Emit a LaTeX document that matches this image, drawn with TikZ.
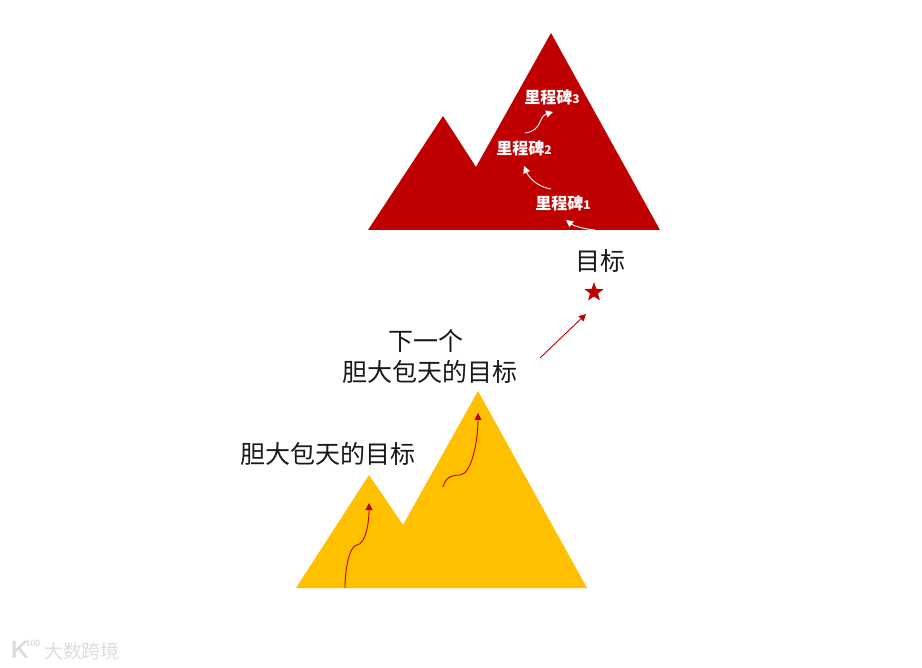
\documentclass[tikz,border=0pt]{standalone}
\usepackage{fontspec}
\usetikzlibrary{positioning,arrows.meta,shapes.geometric}
\newfontfamily\cjk{Noto Sans CJK SC}
\definecolor{peakred}{HTML}{C00000}
\definecolor{peakyel}{HTML}{FFC000}
\definecolor{markcol}{HTML}{DCDCDC}

\begin{document}
\begin{tikzpicture}[
  x=1pt, y=-1pt,
  every node/.style={font=\cjk, inner sep=0pt},
  goal/.style={font=\cjk\fontsize{25}{31}\selectfont, align=center, text=black!90},
  stone/.style={font=\cjk\bfseries\fontsize{16}{18}\selectfont, text=white},
  arr/.style={-{Triangle[length=7pt,width=7pt]}, line width=0.9pt},
  whitearr/.style={arr, white},
  redarr/.style={arr, peakred}
]
\useasboundingbox (0,0) rectangle (922,668);

% ---------------- mountains ----------------
\fill[peakred] (368,230) -- (443,116) -- (476,167) -- (551,33) -- (660,230) -- cycle;
\fill[peakyel] (296,588) -- (369,475) -- (403,525) -- (478,391) -- (587,588) -- cycle;

% ---------------- milestones ----------------
\node[stone] (stone3) at (552,97) {里程碑\fontsize{12}{14}\selectfont 3};
\node[stone] (stone2) at (524,148) {里程碑\fontsize{12}{14}\selectfont 2};
\node[stone] (stone1) at (563,203) {里程碑\fontsize{12}{14}\selectfont 1};

% ---------------- goals ----------------
\node[goal] (target) at (600,261) {目标};
\node[star, star points=5, star point ratio=2.4, fill=peakred, minimum size=20pt, below=9pt of target, xshift=-6pt] (mark) {};
\node[goal] (nextgoal) at (430,357) {下一个\hspace*{8pt}\\胆大包天的目标};
\node[goal] (bigoal) at (328,454) {胆大包天的目标};

% ---------------- connector ends ----------------
\coordinate (a1) at (595,230);
\coordinate (a2) at (566,220);
\coordinate (b1) at (551,189);
\coordinate (b2) at (524,166);
\coordinate (c1) at (525,133);
\coordinate (c2) at (553,112);
\coordinate (d1) at (540,358);
\coordinate (d2) at (586,314);
\coordinate (e1) at (443,487);
\coordinate (e2) at (478,413);
\coordinate (f1) at (345,588);
\coordinate (f2) at (369,503);

% ---------------- arrows ----------------
\draw[whitearr] (a1) .. controls (584,229) and (574,226) .. (a2);
\draw[whitearr] (b1) .. controls (538,187) and (529,178) .. (b2);
\draw[whitearr] (c1) .. controls (533,132) and (538,128) .. (540,122) .. controls (542,116) and (546,114) .. (c2);
\draw[redarr] (d1) -- (d2);
\draw[redarr] (e1) .. controls (446,476) and (453,475) .. (460,475) .. controls (472,474) and (478,440) .. (e2);
\draw[redarr] (f1) .. controls (345,570) and (349,546) .. (357,545) .. controls (365,544) and (369,525) .. (f2);

% ---------------- watermark ----------------
\node[font=\sffamily\bfseries\fontsize{25}{25}\selectfont, text=markcol] (logok) at (20,650) {K};
\node[font=\sffamily\bfseries\fontsize{9}{9}\selectfont, text=markcol] (logonum) at (33,643) {100};
\node[font=\cjk\fontsize{19}{19}\selectfont, text=markcol] (brand) at (82,651) {大数跨境};

\end{tikzpicture}
\end{document}
